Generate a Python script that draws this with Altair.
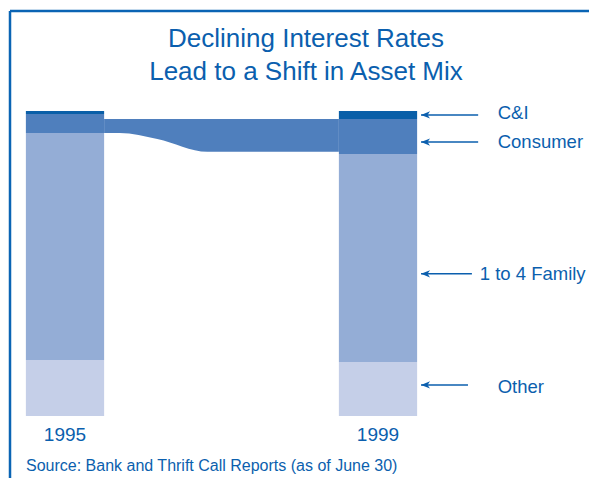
import altair as alt
import pandas as pd

# ---- data ----
years = [1995, 1999]
categories = ["Other", "1 to 4 Family", "Consumer", "C&I"]  # bottom -> top
shares_1995 = [18.4, 74.4, 6.2, 1.0]
shares_1999 = [17.7, 68.2, 11.5, 2.6]
colors = ["#c5cfe8", "#94add6", "#4f7fbd", "#0a5fa8"]

# consumer band linking the two bars
band_x = [1995.5, 1995.7, 1996.18, 1996.82, 1998.5]
band_low = [92.8, 92.8, 90.8, 86.6, 86.6]
band_high = [97.4, 97.4, 97.4, 97.4, 97.4]

# right-hand labels with arrows
label_text = ["C&I", "Consumer", "1 to 4 Family", "Other"]
label_y = [99.3, 89.8, 46.6, 9.5]
arrow_y = [98.7, 89.8, 46.6, 10.2]
label_x = [2000.53, 2000.53, 2000.30, 2000.53]
arrow_tip = [1999.55, 1999.55, 1999.55, 1999.55]
arrow_tail = [2000.28, 2000.28, 2000.20, 2000.15]

title_text = "Declining Interest Rates\nLead to a Shift in Asset Mix"
source_text = "Source: Bank and Thrift Call Reports (as of June 30)"

# ---- layout ----
W, H = 581, 470
kx, x_center_px = 78.25, 57
ky, y_zero_px = 3.05, 408
x_dom = [1995 - x_center_px / kx, 1995 + (W - x_center_px) / kx]
y_dom = [-(H - y_zero_px) / ky, y_zero_px / ky]
xs = alt.Scale(domain=x_dom, nice=False, zero=False)
ys = alt.Scale(domain=y_dom, nice=False, zero=False)
blue = "#0b5fae"
font = "Liberation Sans"

rows = []
for yr, shares in zip(years, [shares_1995, shares_1999]):
    base = 0.0
    for cat, s in zip(categories, shares):
        rows.append({"year": yr, "x0": yr - 0.5, "x1": yr + 0.5, "cat": cat,
                     "y0": base, "y1": base + s})
        base += s
bars_df = pd.DataFrame(rows)

band_df = pd.DataFrame({"x": band_x, "lo": band_low, "hi": band_high})
lab_df = pd.DataFrame({"t": label_text, "y": label_y, "ay": arrow_y, "lx": label_x,
                       "tip": arrow_tip, "tail": arrow_tail})
yr_df = pd.DataFrame({"year": years, "t": [str(y) for y in years]})
one = pd.DataFrame({"a": [0]})

color = alt.Color("cat:N", scale=alt.Scale(domain=categories, range=colors), legend=None)

band = alt.Chart(band_df).mark_area(interpolate="monotone", color=colors[2]).encode(
    x=alt.X("x:Q", scale=xs, axis=None),
    y=alt.Y("hi:Q", scale=ys, axis=None),
    y2="lo:Q",
)

bars = alt.Chart(bars_df).mark_bar(strokeWidth=0).encode(
    x=alt.X("x0:Q", scale=xs, axis=None),
    x2="x1:Q",
    y=alt.Y("y0:Q", scale=ys, axis=None),
    y2="y1:Q",
    color=color,
)

arrows = alt.Chart(lab_df).mark_rule(color=blue, strokeWidth=1.5).encode(
    x=alt.X("tip:Q", scale=xs, axis=None),
    x2="tail:Q",
    y=alt.Y("ay:Q", scale=ys, axis=None),
)

heads = alt.Chart(lab_df).mark_point(
    shape="M0,0 L1,-0.4 L0.72,0 L1,0.4 Z", filled=True, size=324,
    color=blue, opacity=1, strokeWidth=0,
).encode(
    x=alt.X("tip:Q", scale=xs, axis=None),
    y=alt.Y("ay:Q", scale=ys, axis=None),
)

labels = alt.Chart(lab_df).mark_text(
    align="left", baseline="middle", font=font, fontSize=18.5, color=blue
).encode(
    x=alt.X("lx:Q", scale=xs, axis=None),
    y=alt.Y("y:Q", scale=ys, axis=None),
    text="t:N",
)

year_labels = alt.Chart(yr_df).mark_text(
    align="center", baseline="alphabetic", font=font, fontSize=19, color=blue
).encode(
    x=alt.X("year:Q", scale=xs, axis=None),
    y=alt.value(433),
    text="t:N",
)

title = alt.Chart(one).mark_text(
    align="center", baseline="alphabetic", font=font, fontSize=26, color=blue,
    lineBreak="\n", lineHeight=33,
).encode(x=alt.value(298), y=alt.value(39), text=alt.value(title_text))

source = alt.Chart(one).mark_text(
    align="left", baseline="alphabetic", font=font, fontSize=16, color=blue
).encode(x=alt.value(18), y=alt.value(463), text=alt.value(source_text))

frame_top = alt.Chart(one).mark_rule(color="#0a64b4", strokeWidth=2.5).encode(
    x=alt.value(2), x2=alt.value(W), y=alt.value(3)
)
frame_left = alt.Chart(one).mark_rule(color="#0a64b4", strokeWidth=2.5).encode(
    x=alt.value(2), y=alt.value(3), y2=alt.value(H)
)

chart = alt.layer(
    frame_top, frame_left, band, bars, arrows, heads, labels, year_labels, title, source
).properties(
    width=W, height=H, padding=0, autosize=alt.AutoSizeParams(type="none"),
    background="white",
).configure_view(stroke=None)

chart.save("out.html", embed_options={"renderer": "svg", "actions": False})
